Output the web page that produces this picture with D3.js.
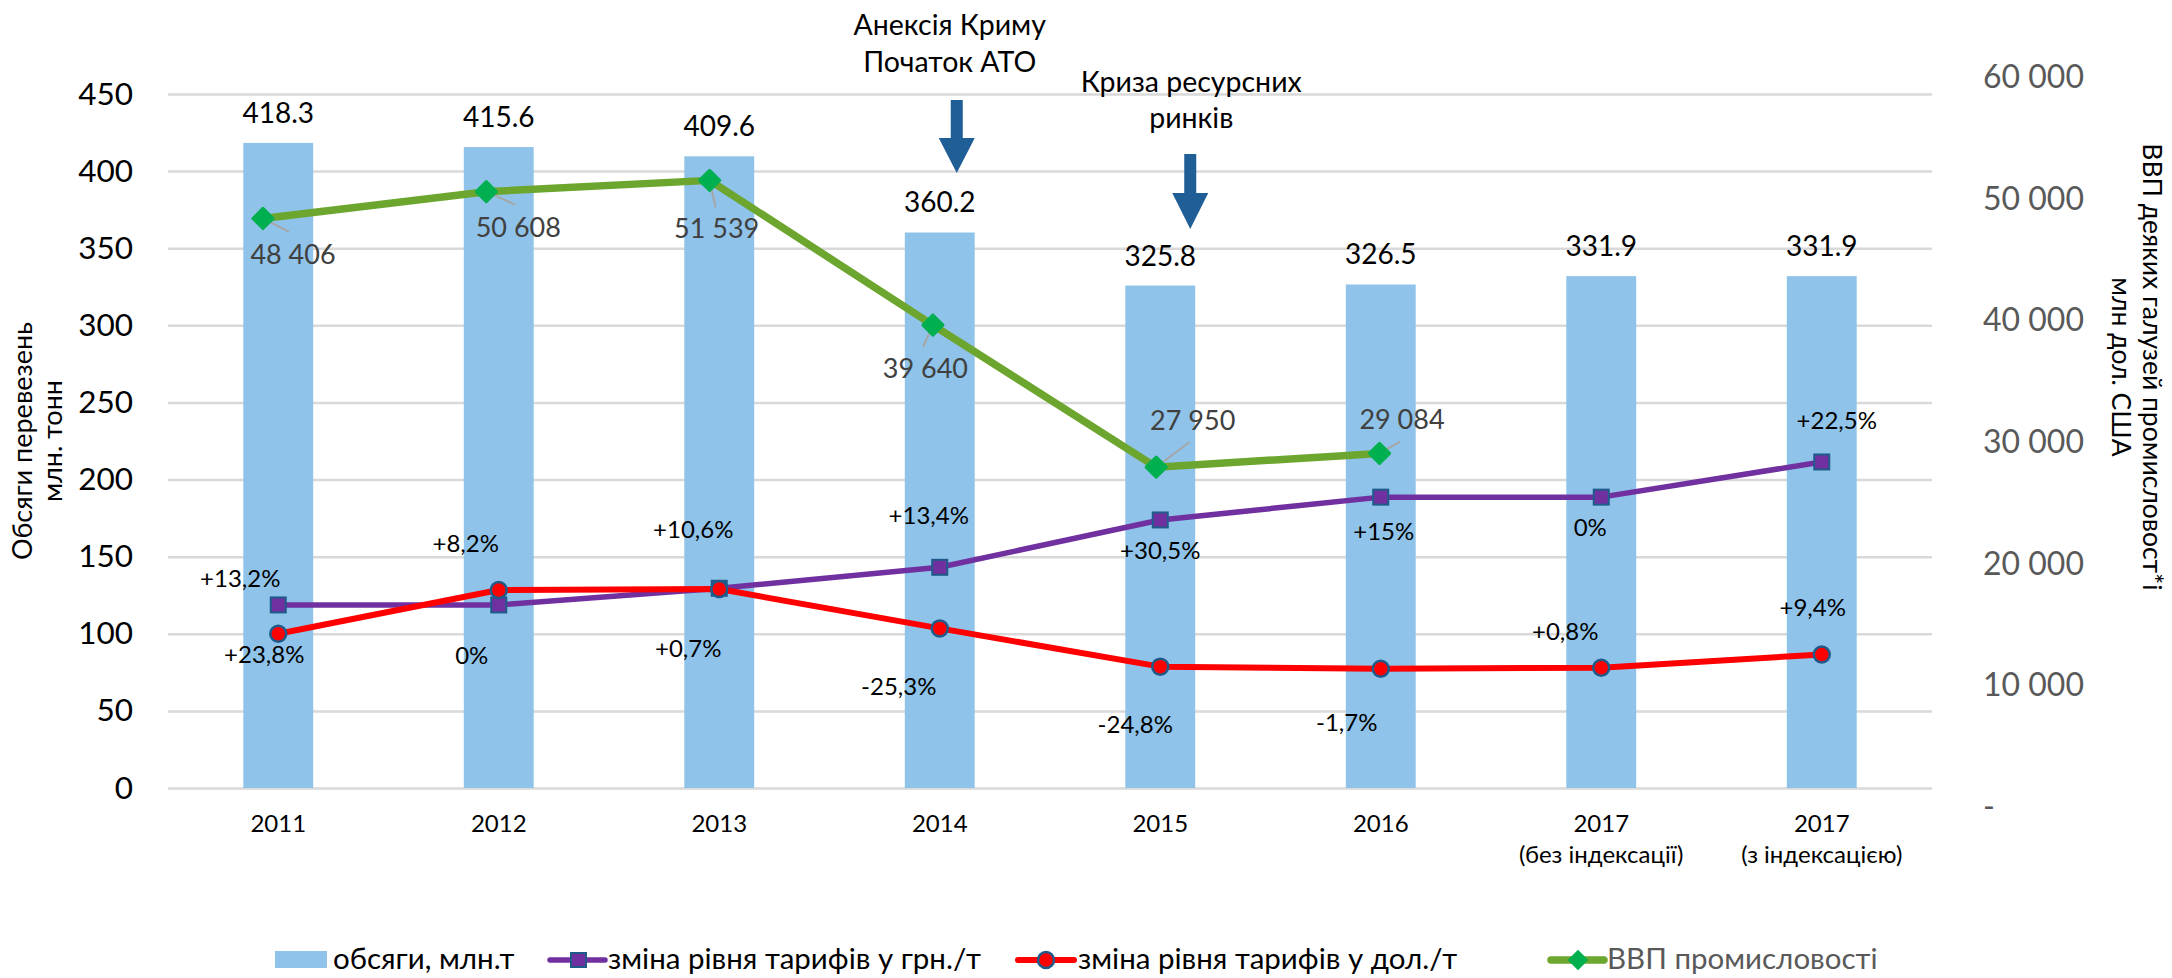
<!DOCTYPE html>
<html><head><meta charset="utf-8">
<script src="https://cdn.jsdelivr.net/npm/d3@7"></script>
<style>
html,body{margin:0;padding:0;background:#fff;}
svg{display:block;font-family:Lato,"Open Sans",sans-serif;}
</style></head><body>
<svg id="chart" width="2172" height="978"></svg>
<script>
// ---------------- data ----------------
const categories = ["2011","2012","2013","2014","2015","2016","2017 (без індексації)","2017 (з індексацією)"];
const categoryLines = [["2011"],["2012"],["2013"],["2014"],["2015"],["2016"],["2017","(без індексації)"],["2017","(з індексацією)"]];
const volumes = [418.3,415.6,409.6,360.2,325.8,326.5,331.9,331.9];
const tariffUah = [118.7,118.7,129.5,143.1,173.8,188.6,188.6,211.4];
const tariffUsd = [100,128.4,129,103.5,78.7,77.3,78,86.6];
const gdpIndustry = [48406,50608,51539,39640,27950,29084,null,null];
const tariffUahLabels = ["+13,2%","0%","+10,6%","+13,4%","+30,5%","+15%","0%","+22,5%"];
const tariffUsdLabels = ["+23,8%","+8,2%","+0,7%","-25,3%","-24,8%","-1,7%","+0,8%","+9,4%"];
const leftTicks = [0,50,100,150,200,250,300,350,400,450];
const rightTicks = [0,10000,20000,30000,40000,50000,60000];
const seriesNames = ["обсяги, млн.т","зміна рівня тарифів у грн./т","зміна рівня тарифів у дол./т","ВВП промисловості"];
const leftTitle = ["Обсяги перевезень","млн. тонн"];
const rightTitle = ["ВВП деяких галузей промисловост*і","млн дол. США"];
const eventCats = ["2014","2015"];
const eventTexts = [["Анексія Криму","Початок АТО"],["Криза ресурсних","ринків"]];

// ---------------- layout (positions / styles) ----------------
const uahLabelOffset = [[-38,-18],[-27,59],[-26,-50],[-11,-43],[0,39],[3,43],[-11,39],[15,-33]];
const usdLabelOffset = [[-14,29],[-33,-38],[-31,68],[-41,67],[-25,66],[-34,62],[-36,-28],[-9,-38]];
const gdpLabelOffset = [[30,45.5],[32,45],[7,58],[-7.5,53],[36.5,-37],[22.5,-24]];
const gdpLeaderEnd = [[26,13.5],[29,13],[6,27],[-10,22],[33,-25],[20.5,-11.7]];
const eventLayout = [{arrowDx:17, textDx:10, base:[35,72], top:100, head:138, tip:173},
                     {arrowDx:30, textDx:31, base:[92,128], top:154, head:193, tip:229}];
const C = {bar:"#8fc3e9", uah:"#7030a0", usd:"#ff0000", gdp:"#6ca62e", gdpMarker:"#00b050",
           markerStroke:"#1f5b8a", grid:"#d9d9d9", arrow:"#1f5f96", gray:"#595959", dgray:"#404040"};

const svg = d3.select("#chart");
const L = 168, R = 1932;

const x = d3.scaleBand().domain(categories).range([L,R]).paddingInner(0.683).paddingOuter(0.3415);
const xc = c => x(c) + x.bandwidth()/2;
const x2 = d3.scalePoint().domain(categories).range([263, 263+7*223.3]);
const y = d3.scaleLinear().domain([0,450]).range([788,94]);
const y2 = d3.scaleLinear().domain([0,60000]).range([807,77.5]);

// gridlines
const grid = svg.append("g").attr("transform",`translate(${L},0)`)
  .call(d3.axisLeft(y).tickValues(leftTicks).tickSize(-(R-L)).tickFormat(""));
grid.select(".domain").remove();
grid.selectAll("line").attr("stroke",C.grid).attr("stroke-width",2.5);

// left axis labels
const gl = svg.append("g").attr("transform",`translate(${L},0)`)
  .call(d3.axisLeft(y).tickValues(leftTicks).tickSize(0).tickPadding(35));
gl.select(".domain").remove();
gl.attr("font-family",null).attr("font-size",31.5);
gl.selectAll("text").attr("fill","#000");

// right axis labels
const fmt = d => d === 0 ? "-" : d3.format(",")(d).replace(/,/g," ");
const gr = svg.append("g").attr("transform",`translate(${R},0)`)
  .call(d3.axisRight(y2).tickValues(rightTicks).tickSize(0).tickPadding(51).tickFormat(fmt));
gr.select(".domain").remove();
gr.attr("font-family",null).attr("font-size",32);
gr.selectAll("text").attr("fill",C.gray);

// x labels
const xl = svg.append("g").attr("font-size",24).attr("text-anchor","middle");
categories.forEach((c,i) => {
  const t = xl.append("text").attr("x",xc(c)).attr("y",832);
  categoryLines[i].forEach((ln,j) => t.append("tspan").attr("x",xc(c)).attr("y",832+j*31).text(ln));
});

// bars
svg.append("g").selectAll("rect").data(volumes).join("rect")
  .attr("x",(d,i)=>x(categories[i])).attr("width",x.bandwidth())
  .attr("y",d=>y(d)).attr("height",d=>y(0)-y(d)).attr("fill",C.bar);
svg.append("g").attr("font-size",28).attr("text-anchor","middle").selectAll("text").data(volumes).join("text")
  .attr("x",(d,i)=>xc(categories[i])).attr("y",d=>y(d)-20).text(d=>d.toFixed(1));

// lines
const lineCat = d3.line().x((d,i)=>xc(categories[i])).y(d=>y(d));
svg.append("path").attr("d",lineCat(tariffUah)).attr("fill","none").attr("stroke",C.uah).attr("stroke-width",5.5).attr("stroke-linejoin","round");
svg.append("path").attr("d",lineCat(tariffUsd)).attr("fill","none").attr("stroke",C.usd).attr("stroke-width",6).attr("stroke-linejoin","round");
const gdpPts = gdpIndustry.map((v,i)=>({v,i})).filter(d=>d.v!=null);
const lineGdp = d3.line().x(d=>x2(categories[d.i])).y(d=>y2(d.v));
svg.append("path").attr("d",lineGdp(gdpPts)).attr("fill","none").attr("stroke",C.gdp).attr("stroke-width",7.5).attr("stroke-linejoin","round");

// leader lines for gdp labels
svg.append("g").selectAll("line").data(gdpPts).join("line")
  .attr("x1",d=>x2(categories[d.i])).attr("y1",d=>y2(d.v))
  .attr("x2",(d,k)=>x2(categories[d.i])+gdpLeaderEnd[k][0]).attr("y2",(d,k)=>y2(d.v)+gdpLeaderEnd[k][1])
  .attr("stroke","#a6a6a6").attr("stroke-width",2);

// markers
svg.append("g").selectAll("rect").data(tariffUah).join("rect")
  .attr("x",(d,i)=>xc(categories[i])-7.5).attr("y",d=>y(d)-7.5).attr("width",15).attr("height",15)
  .attr("fill",C.uah).attr("stroke",C.markerStroke).attr("stroke-width",2);
svg.append("g").selectAll("circle").data(tariffUsd).join("circle")
  .attr("cx",(d,i)=>xc(categories[i])).attr("cy",d=>y(d)).attr("r",8)
  .attr("fill",C.usd).attr("stroke",C.markerStroke).attr("stroke-width",2.5);
const diamond = d3.symbol().type(d3.symbolDiamond2).size(260);
svg.append("g").selectAll("path").data(gdpPts).join("path")
  .attr("transform",d=>`translate(${x2(categories[d.i])},${y2(d.v)})`).attr("d",diamond)
  .attr("fill",C.gdpMarker).attr("stroke",C.gdpMarker).attr("stroke-width",3).attr("stroke-linejoin","round");

// data labels
const pl = svg.append("g").attr("font-size",24).attr("text-anchor","middle").attr("fill","#000");
tariffUah.forEach((v,i)=>pl.append("text").attr("x",xc(categories[i])+uahLabelOffset[i][0]).attr("y",y(v)+uahLabelOffset[i][1]).text(tariffUahLabels[i]));
tariffUsd.forEach((v,i)=>pl.append("text").attr("x",xc(categories[i])+usdLabelOffset[i][0]).attr("y",y(v)+usdLabelOffset[i][1]).text(tariffUsdLabels[i]));
svg.append("g").attr("font-size",27).attr("text-anchor","middle").attr("fill",C.dgray)
  .selectAll("text").data(gdpPts).join("text")
  .attr("x",(d,k)=>x2(categories[d.i])+gdpLabelOffset[k][0]).attr("y",(d,k)=>y2(d.v)+gdpLabelOffset[k][1])
  .text(d=>fmt(d.v));

// events
eventCats.forEach((c,k)=>{
  const e = eventLayout[k];
  const cx = xc(c)+e.arrowDx, tx = xc(c)+e.textDx;
  eventTexts[k].forEach((t,j)=>svg.append("text").attr("x",tx).attr("y",e.base[j]).attr("text-anchor","middle")
    .attr("font-size",28.5).attr("fill","#000").text(t));
  const sw = 6, hw = 18;
  svg.append("path").attr("fill",C.arrow)
    .attr("d",`M${cx-sw},${e.top}H${cx+sw}V${e.head}H${cx+hw}L${cx},${e.tip}L${cx-hw},${e.head}H${cx-sw}Z`);
});

// axis titles
const lt = svg.append("text").attr("transform","translate(0,441) rotate(-90)").attr("text-anchor","middle").attr("font-size",27);
lt.append("tspan").attr("x",0).attr("y",32).text(leftTitle[0]);
lt.append("tspan").attr("x",0).attr("y",62).text(leftTitle[1]);
const rt = svg.append("text").attr("transform","translate(2172,367) rotate(90)").attr("text-anchor","middle").attr("font-size",26.5);
rt.append("tspan").attr("x",0).attr("y",29).text(rightTitle[0]);
rt.append("tspan").attr("x",0).attr("y",60).text(rightTitle[1]);

// legend
const lg = svg.append("g").attr("font-size",29.5);
const ly = 960, lb = 969;
lg.append("rect").attr("x",275).attr("y",951).attr("width",52).attr("height",17).attr("fill",C.bar);
lg.append("text").attr("x",333).attr("y",lb).text(seriesNames[0]);
lg.append("line").attr("x1",550).attr("x2",605).attr("y1",ly).attr("y2",ly).attr("stroke",C.uah).attr("stroke-width",5.5).attr("stroke-linecap","round");
lg.append("rect").attr("x",571).attr("y",953).attr("width",15).attr("height",14).attr("fill",C.uah).attr("stroke",C.markerStroke).attr("stroke-width",2);
lg.append("text").attr("x",608).attr("y",lb).text(seriesNames[1]);
lg.append("line").attr("x1",1018).attr("x2",1074).attr("y1",ly).attr("y2",ly).attr("stroke",C.usd).attr("stroke-width",6).attr("stroke-linecap","round");
lg.append("circle").attr("cx",1046).attr("cy",ly).attr("r",8).attr("fill",C.usd).attr("stroke",C.markerStroke).attr("stroke-width",2.5);
lg.append("text").attr("x",1078).attr("y",lb).text(seriesNames[2]);
lg.append("line").attr("x1",1551).attr("x2",1604).attr("y1",ly).attr("y2",ly).attr("stroke",C.gdp).attr("stroke-width",7.5).attr("stroke-linecap","round");
lg.append("path").attr("transform",`translate(1578,${ly})`).attr("d",d3.symbol().type(d3.symbolDiamond2).size(200))
  .attr("fill",C.gdpMarker).attr("stroke",C.gdpMarker).attr("stroke-width",2);
lg.append("text").attr("x",1607).attr("y",lb).attr("fill",C.gray).text(seriesNames[3]);
</script>
</body></html>
